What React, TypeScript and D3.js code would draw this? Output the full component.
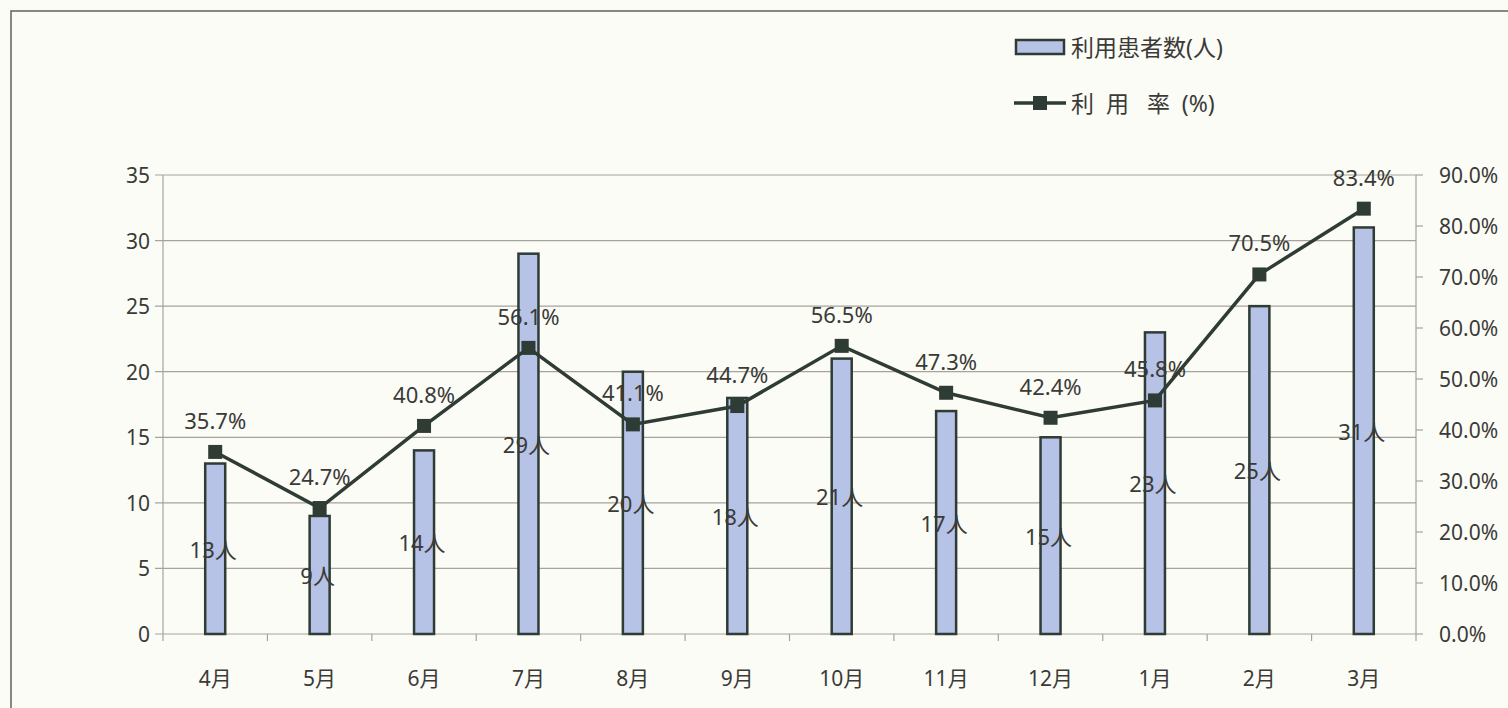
import React, { useEffect, useRef } from 'react';
import * as d3 from 'd3';

const months = ['4月', '5月', '6月', '7月', '8月', '9月', '10月', '11月', '12月', '1月', '2月', '3月'];
const patients = [13, 9, 14, 29, 20, 18, 21, 17, 15, 23, 25, 31];
const rates = [35.7, 24.7, 40.8, 56.1, 41.1, 44.7, 56.5, 47.3, 42.4, 45.8, 70.5, 83.4];
const leftTicks = [0, 5, 10, 15, 20, 25, 30, 35];
const rightTicks = [0, 10, 20, 30, 40, 50, 60, 70, 80, 90];

const FONT = '"Noto Sans", "Noto Sans CJK JP", sans-serif';
const TEXT = '#3a3a38';
const DARK = '#2f3b35';

const App: React.FC = () => {
    const svgRef = useRef<SVGSVGElement>(null);

    useEffect(() => {
        if (!svgRef.current) return;
        const svg = d3.select(svgRef.current);
        svg.selectAll('*').remove();

        const width = 1508;
        const height = 708;
        const left = 163;
        const right = 1416;
        const top = 175;
        const bottom = 634;

        // background + frame
        svg.append('rect').attr('width', width).attr('height', height).attr('fill', '#fcfcf6');
        svg.append('rect')
            .attr('x', 11).attr('y', 11)
            .attr('width', width + 20).attr('height', height + 20)
            .attr('fill', 'none').attr('stroke', '#5f625c').attr('stroke-width', 1.5);

        const x = d3.scaleBand().domain(months).range([left, right]);
        const yL = d3.scaleLinear().domain([0, 35]).range([bottom, top]);
        const yR = d3.scaleLinear().domain([0, 90]).range([bottom, top]);

        // gridlines
        svg.append('g').selectAll('line').data(leftTicks).join('line')
            .attr('x1', left - 8).attr('x2', right)
            .attr('y1', d => yL(d)).attr('y2', d => yL(d))
            .attr('stroke', '#a4a49c').attr('stroke-width', 1.2);

        // left axis line
        svg.append('line').attr('x1', left).attr('x2', left).attr('y1', top).attr('y2', bottom)
            .attr('stroke', '#a4a49c').attr('stroke-width', 1.2);
        // right axis line + ticks
        svg.append('line').attr('x1', right).attr('x2', right).attr('y1', top).attr('y2', bottom)
            .attr('stroke', '#a4a49c').attr('stroke-width', 1.2);
        svg.append('g').selectAll('line').data(rightTicks).join('line')
            .attr('x1', right).attr('x2', right + 7)
            .attr('y1', d => yR(d)).attr('y2', d => yR(d))
            .attr('stroke', '#a4a49c').attr('stroke-width', 1.2);
        // x ticks at category boundaries
        const bounds = months.map(m => x(m) as number).concat([right]);
        svg.append('g').selectAll('line').data(bounds).join('line')
            .attr('x1', d => d).attr('x2', d => d)
            .attr('y1', bottom).attr('y2', bottom + 7)
            .attr('stroke', '#a4a49c').attr('stroke-width', 1.2);

        // tick labels
        svg.append('g').selectAll('text').data(leftTicks).join('text')
            .attr('x', 150).attr('y', d => yL(d))
            .attr('text-anchor', 'end').attr('dominant-baseline', 'central')
            .attr('font-family', FONT).attr('font-size', 21).attr('fill', TEXT)
            .text(d => d);
        svg.append('g').selectAll('text').data(rightTicks).join('text')
            .attr('x', 1439).attr('y', d => yR(d))
            .attr('text-anchor', 'start').attr('dominant-baseline', 'central')
            .attr('font-family', FONT).attr('font-size', 21).attr('fill', TEXT)
            .text(d => d.toFixed(1) + '%');
        svg.append('g').selectAll('text').data(months).join('text')
            .attr('x', d => (x(d) as number) + x.bandwidth() / 2).attr('y', 678)
            .attr('text-anchor', 'middle').attr('dominant-baseline', 'central')
            .attr('font-family', FONT).attr('font-size', 21).attr('fill', TEXT)
            .text(d => d);

        // bars
        const barW = 20;
        svg.append('g').selectAll('rect').data(patients).join('rect')
            .attr('x', (d, i) => (x(months[i]) as number) + x.bandwidth() / 2 - barW / 2)
            .attr('y', d => yL(d))
            .attr('width', barW)
            .attr('height', d => bottom - yL(d))
            .attr('fill', '#b6c2e6')
            .attr('stroke', DARK).attr('stroke-width', 2.5);

        // line
        const cx = (i: number) => (x(months[i]) as number) + x.bandwidth() / 2;
        const line = d3.line<number>().x((d, i) => cx(i)).y(d => yR(d));
        svg.append('path').datum(rates).attr('d', line)
            .attr('fill', 'none').attr('stroke', DARK).attr('stroke-width', 3.5);
        svg.append('g').selectAll('rect').data(rates).join('rect')
            .attr('x', (d, i) => cx(i) - 7).attr('y', d => yR(d) - 7)
            .attr('width', 14).attr('height', 14).attr('fill', DARK);

        // labels
        svg.append('g').selectAll('text').data(patients).join('text')
            .attr('x', (d, i) => cx(i) - 2).attr('y', d => yL(d / 2))
            .attr('text-anchor', 'middle').attr('dominant-baseline', 'central')
            .attr('font-family', FONT).attr('font-size', 22).attr('fill', TEXT)
            .text(d => d + '人');
        svg.append('g').selectAll('text').data(rates).join('text')
            .attr('x', (d, i) => cx(i)).attr('y', d => yR(d) - 32)
            .attr('text-anchor', 'middle').attr('dominant-baseline', 'central')
            .attr('font-family', FONT).attr('font-size', 22).attr('fill', TEXT)
            .text(d => d.toFixed(1) + '%');

        // legend
        svg.append('rect').attr('x', 1016).attr('y', 40).attr('width', 48).attr('height', 14)
            .attr('fill', '#b6c2e6').attr('stroke', DARK).attr('stroke-width', 2.5);
        svg.append('text').attr('x', 1071).attr('y', 47)
            .attr('dominant-baseline', 'central')
            .attr('font-family', FONT).attr('font-size', 23).attr('fill', TEXT)
            .text('利用患者数(人)');
        svg.append('line').attr('x1', 1014).attr('x2', 1066).attr('y1', 103).attr('y2', 103)
            .attr('stroke', DARK).attr('stroke-width', 3.5);
        svg.append('rect').attr('x', 1033).attr('y', 96).attr('width', 14).attr('height', 14).attr('fill', DARK);
        svg.append('text').attr('x', 1071).attr('y', 103)
            .attr('dominant-baseline', 'central')
            .attr('font-family', FONT).attr('font-size', 23).attr('fill', TEXT)
            .attr('xml:space', 'preserve')
            .text('利  用   率  (%)');
    }, []);

    return (
        <svg ref={svgRef} width={1508} height={708}
            style={{ position: 'absolute', left: 0, top: 0, display: 'block' }} />
    );
};

export default App;
